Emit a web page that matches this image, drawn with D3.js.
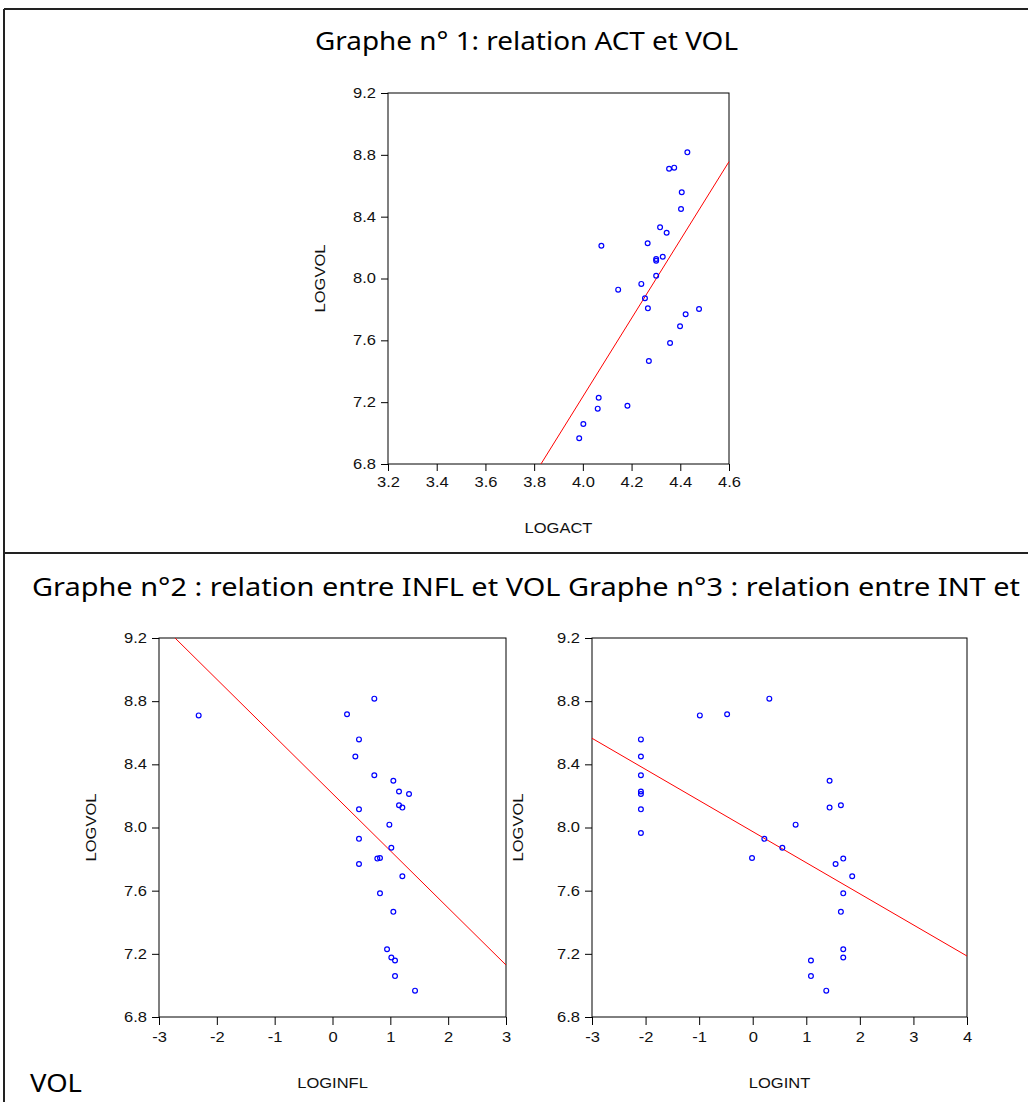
<!DOCTYPE html>
<html lang="fr">
<head>
<meta charset="UTF-8">
<title>Graphes LOGVOL</title>
<script src="https://d3js.org/d3.v7.min.js"></script>
<style>
  body { margin: 0; background: #fff; }
  .title { font-family: "Liberation Sans Narrow", "Noto Sans", sans-serif; font-size: 26px; fill: #000; }
</style>
</head>
<body>
<div id="chart"></div>
<script>
const logVol  = [8.816, 8.717, 8.710, 8.558, 8.450, 8.331, 8.296, 8.228, 8.212, 8.141, 8.126, 8.115, 8.018, 7.965,
                 7.928, 7.872, 7.807, 7.803, 7.769, 7.691, 7.583, 7.466, 7.229, 7.177, 7.158, 7.059, 6.967];
const logAct  = [4.429, 4.375, 4.354, 4.406, 4.403, 4.317, 4.344, 4.266, 4.076, 4.328, 4.301, 4.301, 4.301, 4.240,
                 4.145, 4.255, 4.267, 4.477, 4.422, 4.399, 4.358, 4.271, 4.065, 4.183, 4.061, 4.002, 3.985];
const logInfl = [0.723, 0.251, -2.314, 0.458, 0.395, 0.723, 1.052, 1.150, 1.323, 1.150, 1.208, 0.458, 0.983, null,
                 0.458, 1.017, 0.821, 0.775, 0.458, 1.208, 0.821, 1.052, 0.943, 1.017, 1.081, 1.081, 1.427];
const logInt  = [0.310, -0.478, -0.987, -2.087, -2.087, -2.087, 1.435, -2.087, -2.087, 1.646, 1.435, -2.087, 0.801, -2.087,
                 0.217, 0.553, -0.013, 1.690, 1.547, 1.857, 1.690, 1.646, 1.690, 1.690, 1.087, 1.087, 1.373];

// fitted regression lines (end points)
const fitAct  = [[3.828, 6.8], [4.6, 8.756]];
const fitInfl = [[-2.723, 9.2], [3, 7.129]];
const fitInt  = [[-3, 8.565], [4, 7.186]];

const volTicks  = [6.8, 7.2, 7.6, 8.0, 8.4, 8.8, 9.2];
const actTicks  = [3.2, 3.4, 3.6, 3.8, 4.0, 4.2, 4.4, 4.6];
const inflTicks = [-3, -2, -1, 0, 1, 2, 3];
const intTicks  = [-3, -2, -1, 0, 1, 2, 3, 4];

const W = 1028, H = 1102;
const SX = 1.18; // the chart text in the picture is stretched sideways
const FONT = "'Liberation Sans', Arial, sans-serif";

const svg = d3.select("#chart").append("svg")
  .attr("width", W).attr("height", H);

// page frame
svg.append("line").attr("x1", 4).attr("x2", W).attr("y1", 9).attr("y2", 9)
  .attr("stroke", "#222").attr("stroke-width", 2);
svg.append("line").attr("x1", 4).attr("x2", 4).attr("y1", 9).attr("y2", H)
  .attr("stroke", "#222").attr("stroke-width", 2);
svg.append("line").attr("x1", 4).attr("x2", W).attr("y1", 553).attr("y2", 553)
  .attr("stroke", "#222").attr("stroke-width", 2);

// titles
svg.append("text").attr("class", "title")
  .attr("x", 315).attr("y", 50)
  .attr("textLength", 423).attr("lengthAdjust", "spacingAndGlyphs")
  .text("Graphe n° 1: relation ACT et VOL");
svg.append("text").attr("class", "title")
  .attr("x", 32).attr("y", 596)
  .attr("textLength", 988).attr("lengthAdjust", "spacingAndGlyphs")
  .text("Graphe n°2 : relation entre INFL et VOL  Graphe n°3 : relation entre INT et");
svg.append("text").attr("class", "title")
  .attr("x", 30).attr("y", 1092)
  .attr("textLength", 52).attr("lengthAdjust", "spacingAndGlyphs")
  .text("VOL");

function styleAxis(a) {
  a.select(".domain").remove();
  a.attr("font-family", FONT).attr("font-size", 14);
  a.selectAll(".tick line").attr("stroke", "#000");
  a.selectAll(".tick text").attr("fill", "#111");
}

function panel(opt) {
  const g = svg.append("g");
  const x = d3.scaleLinear().domain(opt.xDomain).range([opt.left, opt.right]);
  const y = d3.scaleLinear().domain([6.8, 9.2]).range([opt.bottom, opt.top]);

  g.append("rect")
    .attr("x", opt.left).attr("y", opt.top)
    .attr("width", opt.right - opt.left).attr("height", opt.bottom - opt.top)
    .attr("fill", "none").attr("stroke", "#000").attr("stroke-width", 1);

  const xa = g.append("g")
    .attr("transform", `translate(0,${opt.bottom})`)
    .call(d3.axisBottom(x).tickValues(opt.xTicks).tickSize(opt.xTickSize).tickPadding(opt.xPad).tickFormat(opt.xFormat))
    .call(styleAxis);
  xa.selectAll(".tick text").attr("transform", `scale(${SX},1)`);

  const ya = g.append("g")
    .attr("transform", `translate(${opt.left},0)`)
    .call(d3.axisLeft(y).tickValues(volTicks).tickSize(7).tickPadding(5).tickFormat(d => d.toFixed(1)))
    .call(styleAxis);
  ya.selectAll(".tick text").attr("x", -12 / SX).attr("transform", `scale(${SX},1)`);

  const pts = logVol.map((v, i) => ({ x: opt.xs[i], y: v })).filter(d => d.x != null);

  g.append("path")
    .datum(opt.fit)
    .attr("fill", "none")
    .attr("stroke", "#ff0000")
    .attr("stroke-width", 1)
    .attr("d", d3.line().x(d => x(d[0])).y(d => y(d[1])));

  g.selectAll("circle.pt")
    .data(pts)
    .join("circle")
    .attr("class", "pt")
    .attr("cx", d => x(d.x))
    .attr("cy", d => y(d.y))
    .attr("r", 2.4)
    .attr("fill", "none")
    .attr("stroke", "#0000ff")
    .attr("stroke-width", 1.2);

  g.append("g")
    .attr("transform", `translate(${opt.yLabelX},${(opt.top + opt.bottom) / 2}) rotate(-90) scale(${SX},1)`)
    .append("text")
    .attr("font-family", FONT).attr("font-size", 14).attr("fill", "#111")
    .attr("text-anchor", "middle")
    .attr("dy", "0.35em")
    .text("LOGVOL");

  g.append("g")
    .attr("transform", `translate(${(opt.left + opt.right) / 2},${opt.xLabelY}) scale(${SX},1)`)
    .append("text")
    .attr("font-family", FONT).attr("font-size", 14).attr("fill", "#111")
    .attr("text-anchor", "middle")
    .attr("dy", "0.35em")
    .text(opt.xLabel);
}

panel({
  xs: logAct, fit: fitAct, xDomain: [3.2, 4.6], xTicks: actTicks, xFormat: d => d.toFixed(1),
  xTickSize: 7, xPad: 6,
  left: 388, right: 729, top: 93, bottom: 464, yLabelX: 320, xLabelY: 528, xLabel: "LOGACT"
});
panel({
  xs: logInfl, fit: fitInfl, xDomain: [-3, 3], xTicks: inflTicks, xFormat: d => String(d),
  xTickSize: 8, xPad: 7,
  left: 159, right: 506, top: 638, bottom: 1017, yLabelX: 91, xLabelY: 1083, xLabel: "LOGINFL"
});
panel({
  xs: logInt, fit: fitInt, xDomain: [-3, 4], xTicks: intTicks, xFormat: d => String(d),
  xTickSize: 8, xPad: 7,
  left: 592, right: 967, top: 638, bottom: 1017, yLabelX: 518, xLabelY: 1083, xLabel: "LOGINT"
});
</script>
</body>
</html>
